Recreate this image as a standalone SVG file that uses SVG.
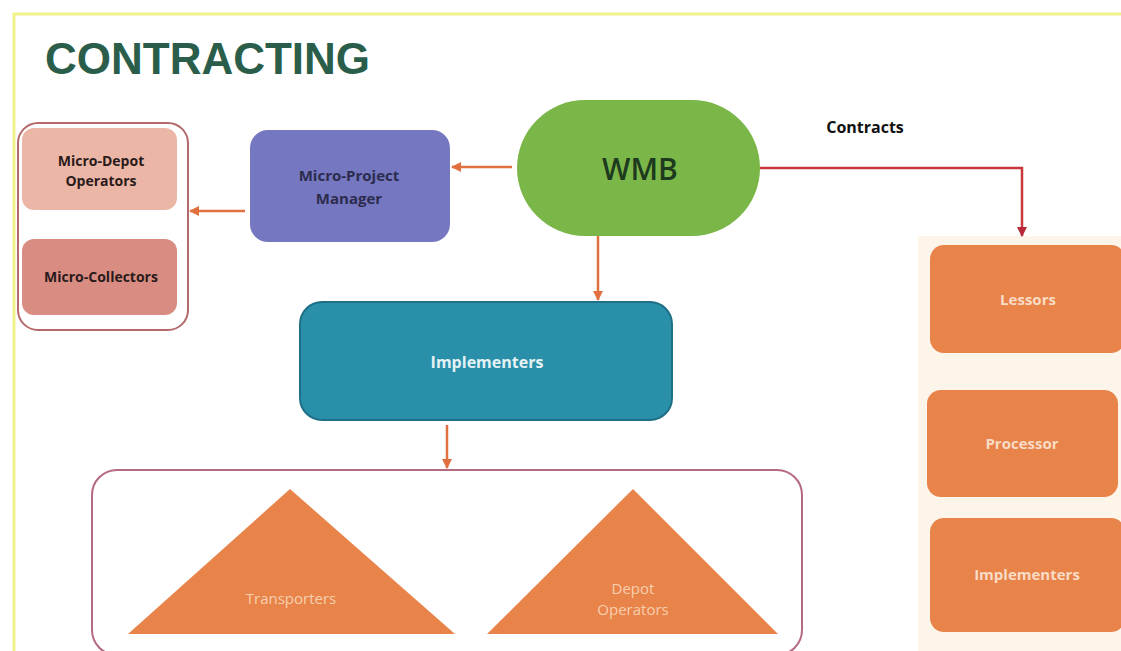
<svg xmlns="http://www.w3.org/2000/svg" width="1121" height="651" viewBox="0 0 1121 651">
<style>
.lbl{font-family:"Open Sans","Liberation Sans",sans-serif;font-weight:bold;text-anchor:middle}
.tlbl{font-family:"Open Sans","Liberation Sans",sans-serif;font-weight:normal;text-anchor:middle;fill:#f7cfae;font-size:15px}
.conn{stroke:#e07040;stroke-width:2.5;fill:none}
.orange{fill:#e8834a}
.olbl{fill:#f9dcc6;font-size:15px}
</style>
<defs>
<marker id="ah" viewBox="0 0 10 10" refX="9" refY="5" markerWidth="4" markerHeight="4" orient="auto"><path d="M0,0 L10,5 L0,10 z" fill="#e07040"/></marker>
<marker id="ahr" viewBox="0 0 10 10" refX="9" refY="5" markerWidth="4" markerHeight="4" orient="auto"><path d="M0,0 L10,5 L0,10 z" fill="#b8283a"/></marker>
</defs>
<rect width="1121" height="651" fill="#ffffff"/>
<path d="M14,651 L14,14 L1121,14" fill="none" stroke="#f2f28a" stroke-width="3"/>
<text x="45" y="74" font-family="Liberation Sans,Arial,sans-serif" font-weight="bold" font-size="44" fill="#2a5e4a">CONTRACTING</text>

<g id="left-group">
<rect x="18" y="123" width="170" height="207" rx="20" fill="#ffffff" stroke="#b46a6a" stroke-width="2"/>
</g>
<g id="micro-depot">
<rect x="22" y="128" width="155" height="82" rx="12" fill="#ecb6a6"/>
<text class="lbl" x="101" y="166" font-size="14" fill="#2a1a1a">Micro-Depot</text>
<text class="lbl" x="101" y="186" font-size="14" fill="#2a1a1a">Operators</text>
</g>
<g id="micro-collectors">
<rect x="22" y="239" width="155" height="76" rx="12" fill="#d98d82"/>
<text class="lbl" x="101" y="282" font-size="14" fill="#2a1a1a">Micro-Collectors</text>
</g>
<g id="micro-project-manager">
<rect x="250" y="130" width="200" height="112" rx="18" fill="#7577c0"/>
<text class="lbl" x="349" y="181" font-size="15" fill="#2c2c4e">Micro-Project</text>
<text class="lbl" x="349" y="204" font-size="15" fill="#2c2c4e">Manager</text>
</g>
<g id="wmb">
<rect x="517" y="100" width="243" height="136" rx="68" fill="#7ab648"/>
<text x="640" y="180" font-family="Open Sans,Liberation Sans,sans-serif" font-weight="600" font-size="30" text-anchor="middle" fill="#1e3a1e">WMB</text>
</g>
<g id="contracts-label">
<text class="lbl" x="865" y="133" font-size="16" fill="#111111">Contracts</text>
</g>
<g id="implementers">
<rect x="300" y="302" width="372" height="118" rx="22" fill="#2a8fa8" stroke="#1f6f86" stroke-width="2"/>
<text class="lbl" x="487" y="368" font-size="16" fill="#e4f2f6">Implementers</text>
</g>
<g id="bottom-group">
<rect x="92" y="470" width="710" height="185" rx="25" fill="#ffffff" stroke="#b46a80" stroke-width="2"/>
</g>
<g id="transporters">
<polygon class="orange" points="290,489 455,634 128,634"/>
<text class="tlbl" x="291" y="604">Transporters</text>
</g>
<g id="depot-operators">
<polygon class="orange" points="633,489 778,634 487,634"/>
<text class="tlbl" x="633" y="594">Depot</text>
<text class="tlbl" x="633" y="615">Operators</text>
</g>
<g id="right-panel">
<rect x="918" y="236" width="203" height="415" fill="#fdf5ea"/>
</g>
<g id="lessors">
<rect x="930" y="245" width="195" height="108" rx="14" class="orange"/>
<text class="lbl olbl" x="1028" y="305">Lessors</text>
</g>
<g id="processor">
<rect x="927" y="390" width="191" height="107" rx="14" class="orange"/>
<text class="lbl olbl" x="1022" y="449">Processor</text>
</g>
<g id="implementers-right">
<rect x="930" y="518" width="195" height="114" rx="14" class="orange"/>
<text class="lbl olbl" x="1027" y="580">Implementers</text>
</g>
<g id="connectors">
<line class="conn" x1="512" y1="167" x2="452" y2="167" marker-end="url(#ah)"/>
<line class="conn" x1="245" y1="211" x2="190" y2="211" marker-end="url(#ah)"/>
<line class="conn" x1="598" y1="236" x2="598" y2="300" marker-end="url(#ah)"/>
<line class="conn" x1="447" y1="425" x2="447" y2="468" marker-end="url(#ah)"/>
<path d="M760,168 L1022,168 L1022,236" fill="none" stroke="#c8383c" stroke-width="2.5" marker-end="url(#ahr)"/>
</g>
</svg>
